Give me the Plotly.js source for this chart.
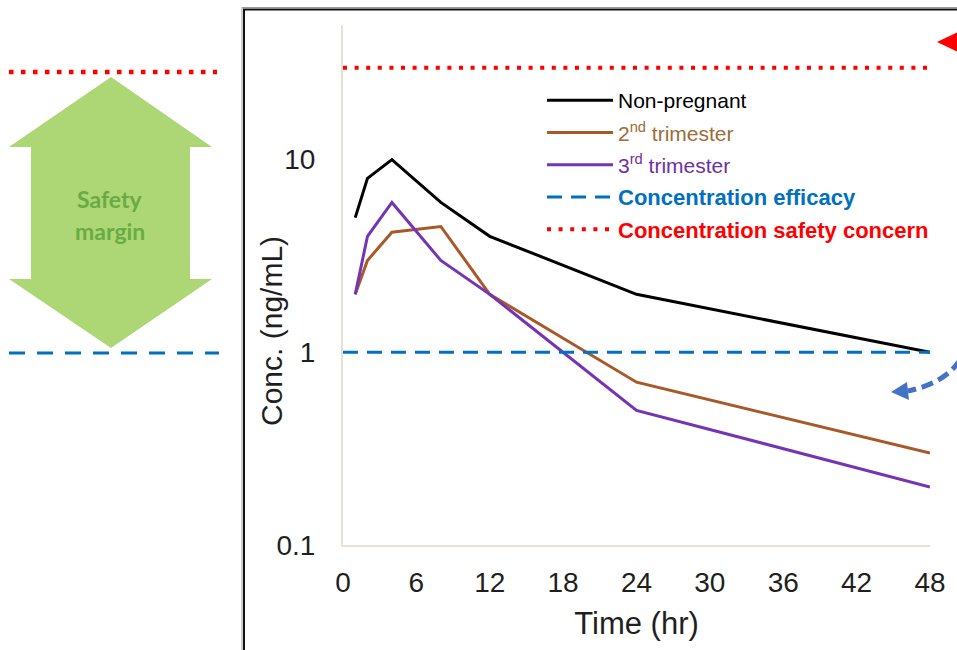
<!DOCTYPE html>
<html>
<head>
<meta charset="utf-8">
<script src="https://cdn.plot.ly/plotly-3.0.1.min.js"></script>
<style>html,body{margin:0;padding:0;background:#fff;}#chart{width:957px;height:650px;}</style>
</head>
<body>
<div id="chart"></div>
<script>
// ---- data ----
const timeHr = [1, 2, 4, 8, 12, 24, 48];
const nonPregnant = [5.0, 8.0, 10.0, 6.0, 4.0, 2.0, 1.0];
const trimester2 = [2.0, 3.0, 4.2, 4.5, 2.0, 0.7, 0.3];
const trimester3 = [2.0, 4.0, 6.0, 3.0, 2.0, 0.5, 0.2];
const refTime = [0, 48];
const efficacyConc = [1, 1];
const safetyConc = [30, 30];
const xTicks = [0, 6, 12, 18, 24, 30, 36, 42, 48];
const yTicks = [0.1, 1, 10];
const yTickText = ['0.1', '1', '10'];

// ---- layout helpers (pixel -> paper) ----
const L = 343, R = 930, T = 25, B = 545;
const W = 957, H = 650;
const X = px => (px - L) / (R - L);
const Y = py => (B - py) / (B - T);

const FONT = 'Arial, "Liberation Sans", sans-serif';

const traces = [
  {x: timeHr, y: nonPregnant, mode: 'lines', name: 'Non-pregnant', legendgroup: 'a',
   line: {color: '#000000', width: 3}},
  {x: timeHr, y: trimester2, mode: 'lines', name: '<span style="color:#9c6d36">2<sup>nd</sup> trimester</span>', legendgroup: 'b',
   line: {color: '#a9582a', width: 3}},
  {x: timeHr, y: trimester3, mode: 'lines', name: '<span style="color:#7030a0">3<sup>rd</sup> trimester</span>', legendgroup: 'c',
   line: {color: '#7434b4', width: 3}},
  {x: refTime, y: efficacyConc, mode: 'lines', name: '<span style="color:#0070c0;font-size:22px"><b>Concentration efficacy</b></span>', legendgroup: 'd',
   line: {color: '#0070c0', width: 3, dash: '15px,9px'}},
  {x: refTime, y: safetyConc, mode: 'lines', name: '<span style="color:#ff0000;font-size:22px"><b>Concentration safety concern</b></span>', legendgroup: 'e',
   line: {color: '#ff0000', width: 4, dash: '4px,7.6px'}}
];

function pathFromPx(pts, close) {
  return 'M ' + pts.map(p => X(p[0]).toFixed(5) + ',' + Y(p[1]).toFixed(5)).join(' L ') + (close ? ' Z' : '');
}

const arrowPts = [[111,77],[212,147],[190,147],[190,279],[212,279],[111,348],[9,279],[31,279],[31,147],[9,147]];

const shapes = [
  // frame
  {type: 'rect', xref: 'paper', yref: 'paper', x0: X(242), x1: X(962), y0: Y(655), y1: Y(7.5),
   line: {color: '#9a9a9a', width: 1}, fillcolor: 'rgba(0,0,0,0)'},
  {type: 'rect', xref: 'paper', yref: 'paper', x0: X(244), x1: X(962), y0: Y(655), y1: Y(9.5),
   line: {color: '#111111', width: 2}, fillcolor: 'rgba(0,0,0,0)'},
  // green double arrow
  {type: 'path', xref: 'paper', yref: 'paper', path: pathFromPx(arrowPts, true),
   fillcolor: '#acd774', line: {width: 0}},
  // left reference lines
  {type: 'line', xref: 'paper', yref: 'paper', x0: X(9), x1: X(217), y0: Y(72), y1: Y(72),
   line: {color: '#ff0000', width: 4.5, dash: '4.5px,7.5px'}},
  {type: 'line', xref: 'paper', yref: 'paper', x0: X(9), x1: X(219), y0: Y(353), y1: Y(353),
   line: {color: '#0070c0', width: 3, dash: '16px,12px'}},
  // red arrow head (top right)
  {type: 'path', xref: 'paper', yref: 'paper', path: pathFromPx([[937,42],[958,32],[958,52]], true),
   fillcolor: '#ff0000', line: {width: 0}},
  // blue curved dashed arrow
  {type: 'path', xref: 'paper', yref: 'paper',
   path: 'M ' + X(960) + ',' + Y(360) + ' Q ' + X(945) + ',' + Y(383) + ' ' + X(908) + ',' + Y(391),
   line: {color: '#4472c4', width: 5, dash: '12px,6px'}, fillcolor: 'rgba(0,0,0,0)'},
  {type: 'path', xref: 'paper', yref: 'paper', path: pathFromPx([[891,392],[907,382],[909,400]], true),
   fillcolor: '#4472c4', line: {width: 0}}
];

const annotations = [
  {xref: 'paper', yref: 'paper', x: X(110), y: Y(199), xanchor: 'center', yanchor: 'middle', text: '<b>Safety</b>', showarrow: false,
   font: {family: 'Lato, "Open Sans", sans-serif', size: 23, color: '#6aab45'}},
  {xref: 'paper', yref: 'paper', x: X(110), y: Y(231), xanchor: 'center', yanchor: 'middle', text: '<b>margin</b>', showarrow: false,
   font: {family: 'Lato, "Open Sans", sans-serif', size: 23, color: '#6aab45'}},
  {xref: 'paper', yref: 'paper', x: X(271), y: Y(331), xanchor: 'center', yanchor: 'middle', text: 'Conc. (ng/mL)', textangle: -90, showarrow: false,
   font: {family: FONT, size: 30, color: '#1f1f1f'}}
];

const layout = {
  width: W, height: H,
  margin: {l: L, r: W - R, t: T, b: H - B, pad: 0},
  paper_bgcolor: '#ffffff', plot_bgcolor: '#ffffff',
  showlegend: true,
  legend: {x: X(542), y: Y(80), xanchor: 'left', yanchor: 'top', bgcolor: 'rgba(0,0,0,0)',
           font: {family: FONT, size: 21, color: '#000000'}, itemwidth: 66, tracegroupgap: 2},
  xaxis: {range: [0, 48], tickvals: xTicks, ticktext: xTicks.map(String), showgrid: false, zeroline: false,
          showline: true, linecolor: '#ece0d2', linewidth: 2, ticks: '', ticklabelstandoff: 11,
          tickfont: {family: FONT, size: 28, color: '#1f1f1f'},
          title: {text: 'Time (hr)', font: {family: FONT, size: 31, color: '#1f1f1f'}, standoff: 16}},
  yaxis: {type: 'log', range: [-1, Math.log10(50)], tickvals: yTicks, ticktext: yTickText, showgrid: false,
          zeroline: false, showline: true, linecolor: '#ece0d2', linewidth: 2, ticks: '', ticklabelstandoff: 20,
          tickfont: {family: FONT, size: 28, color: '#1f1f1f'}},
  shapes: shapes,
  annotations: annotations
};

Plotly.newPlot('chart', traces, layout, {displayModeBar: false, staticPlot: true});
</script>
</body>
</html>
